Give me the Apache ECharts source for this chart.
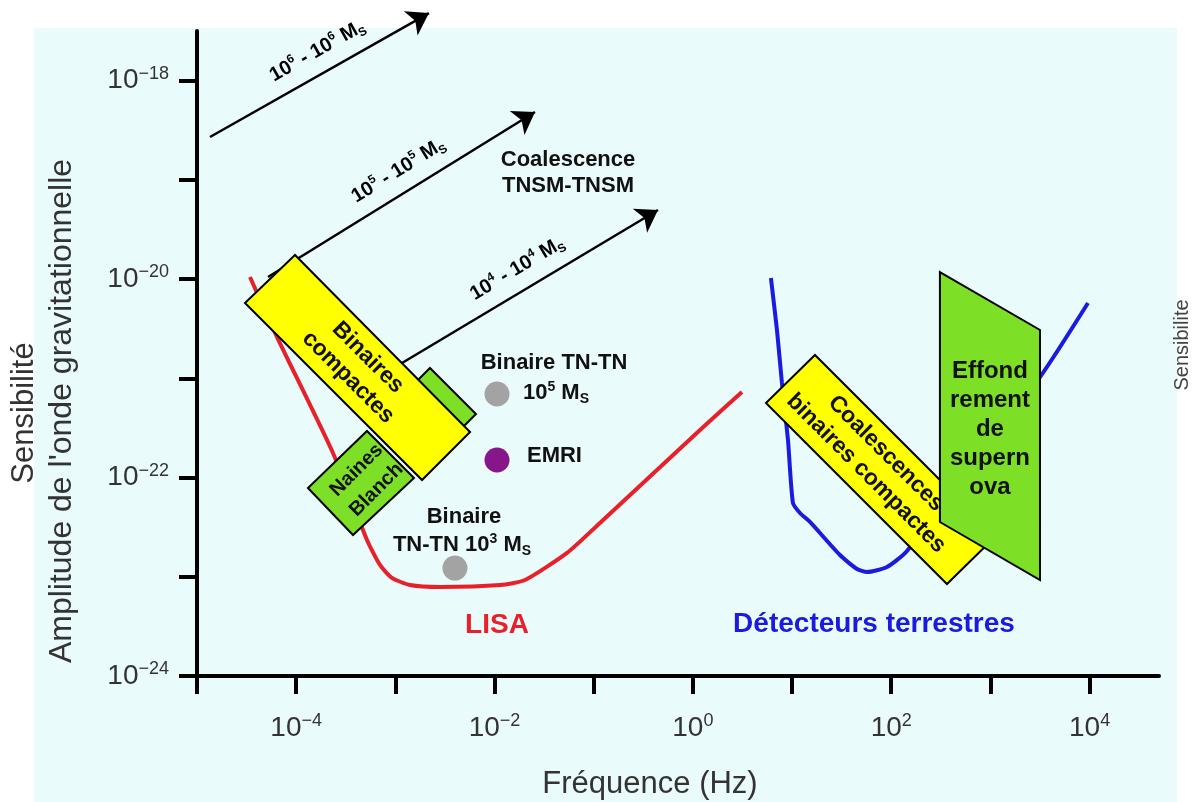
<!DOCTYPE html>
<html>
<head>
<meta charset="utf-8">
<script src="https://cdn.jsdelivr.net/npm/echarts@6/dist/echarts.min.js"></script>
<style>
  html, body { margin: 0; padding: 0; background: #fff; }
  #chart { width: 1194px; height: 802px; }
</style>
</head>
<body>
<div id="chart"></div>
<script>
// every value is log10: frequency in Hz, strain amplitude (dimensionless)

// LISA sensitivity curve
const lisaLogF = [-4.466, -4.193, -3.629, -3.286, -3.155, -3.034, -2.852, -2.550, -1.945, -1.693, -1.269, -0.937, 0.072, 0.495]
const lisaLogH = [-19.979, -20.584, -21.753, -22.629, -22.881, -23.012, -23.083, -23.103, -23.083, -23.033, -22.760, -22.458, -21.521, -21.138]

// ground based detectors curve
const groundLogF = [0.787, 0.848, 0.898, 0.959, 1.009, 1.080, 1.181, 1.483, 1.655, 1.755, 1.957, 2.159, 3.500, 3.984]
const groundLogH = [-19.989, -20.513, -21.047, -21.622, -22.257, -22.357, -22.448, -22.781, -22.922, -22.952, -22.902, -22.740, -20.987, -20.241]

const xTicks = [-5, -4, -3, -2, -1, 0, 1, 2, 3, 4]
const xLabels = [-4, -2, 0, 2, 4]
const yTicks = [-24, -23, -22, -21, -20, -19, -18]
const yLabels = [-24, -22, -20, -18]

// supermassive black hole coalescence tracks
const arrowNames = [
    '10{sup|6} - 10{sup|6} M{sub|S}',
    '10{sup|5} - 10{sup|5} M{sub|S}',
    '10{sup|4} - 10{sup|4} M{sub|S}'
]
const arrowFrom = [[-4.869, -18.568], [-4.284, -19.979], [-3.135, -20.967]]
const arrowTo = [[-2.661, -17.319], [-1.592, -18.316], [-0.352, -19.304]]

// point sources
const sourceNames = ['Binaire TN-TN 10^5 MS', 'EMRI', 'Binaire TN-TN 10^3 MS']
const sourceLogF = [-1.975, -1.975, -2.399]
const sourceLogH = [-21.158, -21.823, -22.912]

// source regions (corners)
const boxNames = ['', 'Naines\nBlanch', 'Binaires\ncompactes', 'Coalescences\nbinaires compactes', 'Effond\nrement\nde\nsupern\nova']
const boxCorners = [
    [[-2.651, -20.896], [-2.187, -21.360], [-2.328, -21.501], [-2.792, -21.037]],
    [[-3.881, -22.105], [-3.427, -22.579], [-2.812, -22.005], [-3.286, -21.531]],
    [[-4.012, -19.757], [-4.516, -20.241], [-2.731, -22.025], [-2.247, -21.541]],
    [[1.231, -20.765], [0.737, -21.249], [2.562, -23.073], [3.056, -22.589]],
    [[2.491, -19.929], [3.500, -20.513], [3.500, -23.033], [2.491, -22.448]]
]

// annotations
const noteTexts = [
    'Coalescence\nTNSM-TNSM',
    'Binaire TN-TN',
    '10{sup|5} M{sub|S}',
    'EMRI',
    'Binaire',
    'TN-TN 10{sup|3} M{sub|S}',
    'LISA',
    'Détecteurs terrestres'
]
const noteLogF = [-1.259, -1.400, -1.713, -1.673, -2.308, -2.328, -1.975, 1.826]
const noteLogH = [-18.935, -20.846, -21.148, -21.783, -22.398, -22.680, -23.486, -23.476]

// styling
const FONT = '"Liberation Sans", Arial, Helvetica, sans-serif'
const GREEN = '#7ddf26'
const YELLOW = '#ffff00'
const boxFill = [GREEN, GREEN, YELLOW, YELLOW, GREEN]
const boxAngle = [0, 45, -45, -45, 0]
const boxFont = [0, 20, 23, 23, 24]
const boxLine = [0, 28, 28, 28, 29]
const boxShift = [[0, 0], [6, -3], [0, 0], [-5, -6], [0, 3]]
const sourceColors = ['#a3a3a3', '#87168a', '#a3a3a3']
const noteColors = ['#111', '#111', '#111', '#111', '#111', '#111', '#e8202a', '#1a1ae0']
const noteSize = [22, 22, 22, 22, 22, 22, 28, 28]
const noteLeft = [false, false, true, true, false, false, false, false]

function expLabel(v) {
    return '10{sup|' + (v < 0 ? '\u2212' + (-v) : v) + '}'
}

function boldRich(size, color) {
    return {
        sup: {fontSize: Math.round(size * 0.62), fontWeight: 'bold', fontFamily: FONT, color: color, lineHeight: Math.round(size * 0.7), verticalAlign: 'top'},
        sub: {fontSize: Math.round(size * 0.62), fontWeight: 'bold', fontFamily: FONT, color: color, lineHeight: Math.round(size * 0.5), verticalAlign: 'bottom'}
    }
}

const axisRich = {
    sup: {fontSize: 18, lineHeight: 22, verticalAlign: 'top', color: '#333', fontFamily: FONT}
}

let chart = echarts.init(document.getElementById('chart'))

chart.setOption({
    animation: false,
    backgroundColor: '#fff',
    grid: {left: 197, right: 35, top: 31, bottom: 126, outerBoundsMode: 'none'},
    xAxis: {
        type: 'value',
        min: -5,
        max: 4.7,
        axisLine: {onZero: false, lineStyle: {color: '#000', width: 4}},
        axisTick: {show: true, customValues: xTicks, length: 18, lineStyle: {color: '#000', width: 4}},
        axisLabel: {
            customValues: xLabels,
            formatter: expLabel,
            margin: 36,
            color: '#333',
            fontSize: 28,
            lineHeight: 32,
            fontFamily: FONT,
            rich: axisRich
        },
        splitLine: {show: false}
    },
    yAxis: {
        type: 'value',
        min: -24,
        max: -17.5,
        axisLine: {show: true, onZero: false, lineStyle: {color: '#000', width: 4}},
        axisTick: {show: true, customValues: yTicks, length: 18, lineStyle: {color: '#000', width: 4}},
        axisLabel: {
            customValues: yLabels,
            formatter: expLabel,
            margin: 28,
            color: '#333',
            fontSize: 28,
            lineHeight: 32,
            fontFamily: FONT,
            rich: axisRich
        },
        splitLine: {show: false}
    },
    graphic: [
        {type: 'rect', z: -10, silent: true, shape: {x: 34, y: 28, width: 1143, height: 774}, style: {fill: '#eafbfc'}},
        {type: 'text', x: 24, y: 413, rotation: Math.PI / 2, silent: true,
            style: {text: 'Sensibilité', fontSize: 31, fontFamily: FONT, fill: '#333', align: 'center', verticalAlign: 'middle'}},
        {type: 'text', x: 62, y: 411, rotation: Math.PI / 2, silent: true,
            style: {text: 'Amplitude de l\'onde gravitationnelle', fontSize: 32, fontFamily: FONT, fill: '#333', align: 'center', verticalAlign: 'middle'}},
        {type: 'text', x: 650, y: 784, silent: true,
            style: {text: 'Fréquence (Hz)', fontSize: 31, fontFamily: FONT, fill: '#333', align: 'center', verticalAlign: 'middle'}},
        {type: 'text', x: 1182, y: 345, rotation: Math.PI / 2, silent: true,
            style: {text: 'Sensibilite', fontSize: 20, fontFamily: FONT, fill: '#444', align: 'center', verticalAlign: 'middle'}}
    ],
    series: [
        {
            name: 'LISA',
            type: 'line',
            data: lisaLogF.map((f, i) => [f, lisaLogH[i]]),
            symbol: 'none',
            smooth: 0.2,
            lineStyle: {color: '#e8202a', width: 4},
            z: 2
        },
        {
            name: 'Détecteurs terrestres',
            type: 'line',
            data: groundLogF.map((f, i) => [f, groundLogH[i]]),
            symbol: 'none',
            smooth: 0.2,
            lineStyle: {color: '#1a1ae0', width: 4},
            z: 2
        },
        {
            name: 'Coalescence TNSM-TNSM',
            type: 'lines',
            coordinateSystem: 'cartesian2d',
            clip: false,
            z: 3,
            symbol: ['none', 'arrow'],
            symbolSize: [12, 21],
            lineStyle: {color: '#000', width: 2.5, opacity: 1},
            label: {
                show: true,
                position: 'middle',
                distance: 10,
                padding: [0, 0, 0, 20],
                color: '#000',
                fontSize: 20,
                fontWeight: 'bold',
                fontFamily: FONT,
                lineHeight: 24,
                rich: boldRich(20, '#000')
            },
            data: arrowFrom.map((a, i) => ({coords: [a, arrowTo[i]], label: {formatter: arrowNames[i]}}))
        },
        {
            name: 'Régions',
            type: 'custom',
            coordinateSystem: 'cartesian2d',
            z: 4,
            data: boxCorners.map((c, i) => [
                c.reduce((s, p) => s + p[0], 0) / c.length,
                c.reduce((s, p) => s + p[1], 0) / c.length,
                i
            ]),
            renderItem: function (params, api) {
                let i = params.dataIndex
                let pts = boxCorners[i].map(p => api.coord(p))
                let cx = pts.reduce((s, p) => s + p[0], 0) / pts.length
                let cy = pts.reduce((s, p) => s + p[1], 0) / pts.length
                let children = [{
                    type: 'polygon',
                    shape: {points: pts},
                    style: {fill: boxFill[i], stroke: '#000', lineWidth: 2}
                }]
                if (boxNames[i]) {
                    children.push({
                        type: 'text',
                        x: cx + boxShift[i][0],
                        y: cy + boxShift[i][1],
                        rotation: boxAngle[i] * Math.PI / 180,
                        style: {
                            text: boxNames[i],
                            fill: '#111',
                            fontSize: boxFont[i],
                            fontWeight: 'bold',
                            fontFamily: FONT,
                            lineHeight: boxLine[i],
                            align: 'center',
                            verticalAlign: 'middle'
                        }
                    })
                }
                return {type: 'group', children: children}
            }
        },
        {
            name: 'Sources',
            type: 'scatter',
            z: 5,
            symbolSize: 25,
            data: sourceLogF.map((f, i) => ({
                name: sourceNames[i],
                value: [f, sourceLogH[i]],
                itemStyle: {color: sourceColors[i], opacity: 1}
            }))
        },
        {
            name: 'Notes',
            type: 'scatter',
            z: 6,
            symbolSize: 0,
            itemStyle: {color: 'rgba(0,0,0,0)', opacity: 1},
            data: noteTexts.map((t, i) => ({
                value: [noteLogF[i], noteLogH[i]],
                label: {
                    show: true,
                    position: noteLeft[i] ? 'right' : 'inside',
                    distance: 0,
                    formatter: t,
                    color: noteColors[i],
                    fontSize: noteSize[i],
                    fontWeight: 'bold',
                    fontFamily: FONT,
                    lineHeight: Math.round(noteSize[i] * 1.2),
                    align: noteLeft[i] ? 'left' : 'center',
                    rich: boldRich(noteSize[i], noteColors[i])
                }
            }))
        }
    ]
})
</script>
</body>
</html>
